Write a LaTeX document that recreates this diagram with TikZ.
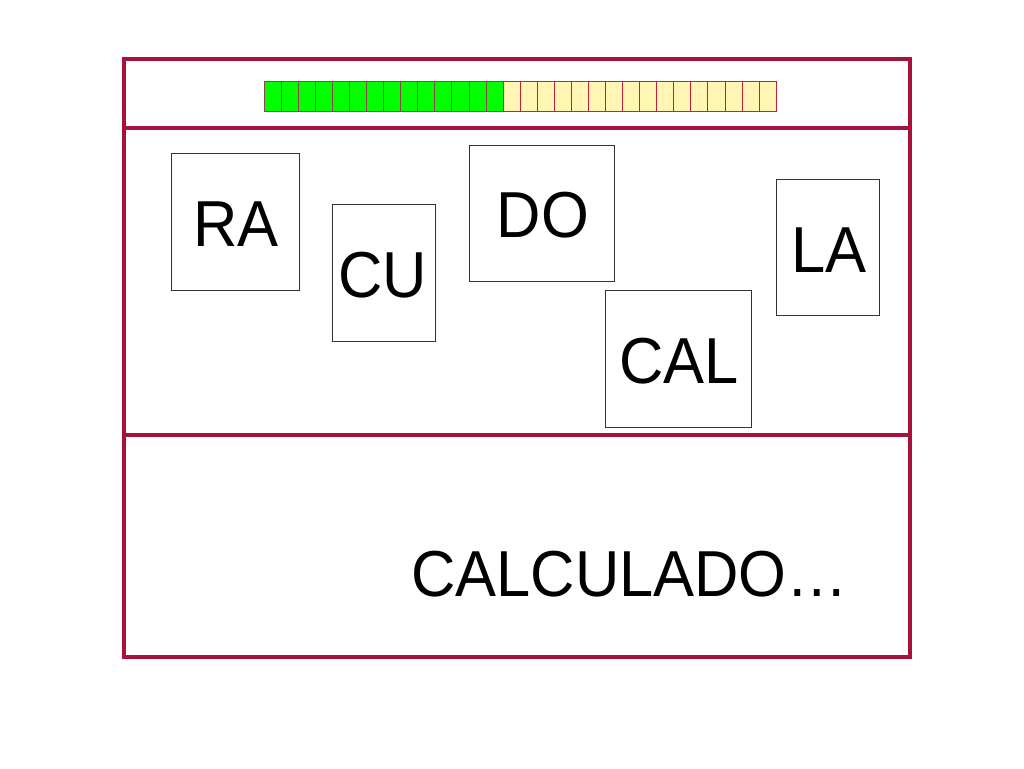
\documentclass[tikz,border=0pt]{standalone}
\usepackage{fontspec}
\setmainfont{Liberation Sans}
\newfontfamily\wordfont[FakeStretch=0.945]{Liberation Sans}
\definecolor{framered}{HTML}{A8123A}
\definecolor{cellred}{HTML}{C4203C}
\definecolor{barGreen}{HTML}{00FF00}
\definecolor{barYellow}{HTML}{FFF6B4}
\begin{document}
\begin{tikzpicture}[x=1pt,y=-1pt,
  frameline/.style={draw=framered,line width=3.2pt},
  card/.style={draw=black!80,line width=1pt,fill=white},
  word/.style={anchor=base,inner sep=0pt,font=\wordfont\fontsize{65}{70}\selectfont},
  gcell/.style={draw=cellred!60!black!80,line width=0.6pt,fill=barGreen},
  ycell/.style={draw=cellred,line width=0.6pt,fill=barYellow}]
\useasboundingbox (0,0) rectangle (1024,768);
% frame
\draw[frameline] (124,59) rectangle (910,657);
\draw[frameline] (124,128) -- (910,128);
\draw[frameline] (124,435) -- (910,435);
% progress bar
\foreach \i in {0,...,13}{
  \draw[gcell] ({264+\i*17.067},81) rectangle ({264+(\i+1)*17.067},111);
}
\foreach \i in {14,...,29}{
  \draw[ycell] ({264+\i*17.067},81) rectangle ({264+(\i+1)*17.067},111);
}
% cards
\draw[card] (171,153) rectangle (299,290);
\node[word] (ra) at (236,246) {RA};
\draw[card] (332,204) rectangle (435,341);
\node[word] (cu) at (383,297) {CU};
\draw[card] (469,145) rectangle (614,281);
\node[word] (do) at (543,237) {DO};
\draw[card] (776,179) rectangle (879,315);
\node[word] (la) at (829,272) {LA};
\draw[card] (605,290) rectangle (751,427);
\node[word] (cal) at (679,383) {CAL};
% bottom text
\node[word,anchor=base west] (calc) at (411,596) {CALCULADO…};
\end{tikzpicture}
\end{document}
